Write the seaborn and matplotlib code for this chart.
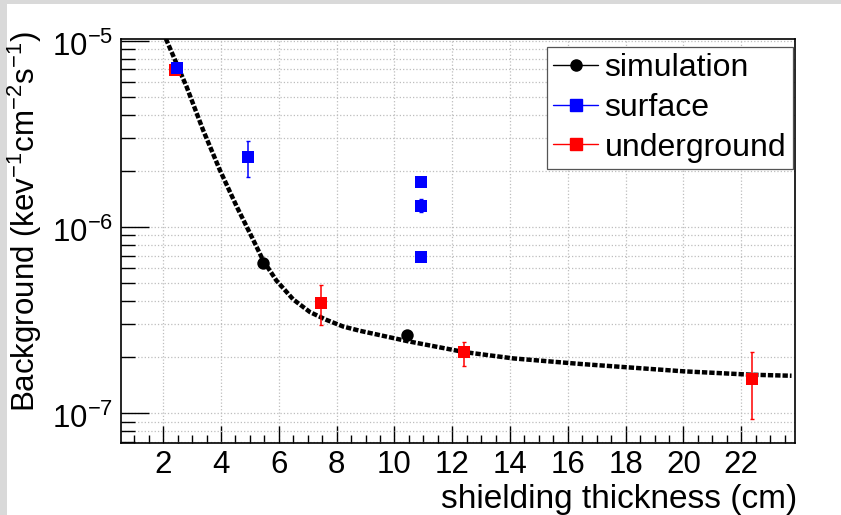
import matplotlib
matplotlib.use("Agg")
import matplotlib.pyplot as plt
import matplotlib.ticker as mticker
import matplotlib.transforms as mtransforms
from matplotlib.lines import Line2D
from matplotlib.patches import Rectangle
import numpy as np
import pandas as pd
import seaborn as sns

# ---------------- data ----------------
curve_x = [2.09, 2.81, 3.38, 3.96, 4.54, 5.11, 5.46, 5.92, 6.50, 7.08, 7.65,
           8.23, 8.81, 9.38, 10.44, 12.42, 14.11, 16.42, 18.84, 19.99, 22.36, 23.74]
curve_y = [1.025e-5, 5.65e-6, 3.31e-6, 2.02e-6, 1.29e-6, 8.55e-7, 6.6e-7, 5.15e-7,
           4.08e-7, 3.49e-7, 3.17e-7, 2.92e-7, 2.77e-7, 2.65e-7, 2.44e-7, 2.13e-7,
           1.97e-7, 1.84e-7, 1.73e-7, 1.68e-7, 1.61e-7, 1.59e-7]

sim_x = [5.46, 10.44]
sim_y = [6.42e-7, 2.64e-7]

surf_x = [2.46, 4.92, 10.92, 10.92, 10.92]
surf_y = [7.17e-6, 2.36e-6, 1.75e-6, 1.30e-6, 6.92e-7]
surf_lo = [7.00e-6, 1.85e-6, 1.72e-6, 1.21e-6, 6.80e-7]
surf_hi = [7.35e-6, 2.89e-6, 1.78e-6, 1.41e-6, 7.05e-7]

under_x = [2.40, 7.45, 12.42, 22.36]
under_y = [6.93e-6, 3.89e-7, 2.12e-7, 1.53e-7]
under_lo = [6.80e-6, 2.97e-7, 1.80e-7, 9.3e-8]
under_hi = [7.06e-6, 4.86e-7, 2.42e-7, 2.14e-7]

x_ticks = [2, 4, 6, 8, 10, 12, 14, 16, 18, 20, 22]
series_names = ["simulation", "surface", "underground"]
series_colors = ["#000000", "#0000ff", "#ff0000"]
series_markers = ["o", "s", "s"]

# ---------------- style ----------------
sns.set_theme(style="white")
plt.rcParams["font.family"] = ["Liberation Sans", "DejaVu Sans"]
plt.rcParams["mathtext.fontset"] = "custom"
plt.rcParams["mathtext.rm"] = "Liberation Sans"
plt.rcParams["mathtext.it"] = "Liberation Sans:italic"
plt.rcParams["mathtext.bf"] = "Liberation Sans:bold"
plt.rcParams["axes.unicode_minus"] = False
for k in ["text.color", "axes.labelcolor", "xtick.color", "ytick.color"]:
    plt.rcParams[k] = "black"

W, H = 841, 515
fig = plt.figure(figsize=(W / 100, H / 100), dpi=100)
fig.patch.set_facecolor("#d9d9d9")
fig.patches.append(Rectangle((7 / W, 0), 1, 1 - 4 / H, transform=fig.transFigure,
                             facecolor="white", edgecolor="none", zorder=-10))

ax = fig.add_axes([121.3 / W, 1 - 443.3 / H, (795 - 121.3) / W, (443.3 - 39) / H])
ax.set_facecolor("white")

# curve
curve_df = pd.DataFrame({"x": curve_x, "y": curve_y})
sns.lineplot(data=curve_df, x="x", y="y", ax=ax, sort=False, estimator=None,
             color="black", lw=3.2, linestyle=(0, (1.2, 0.45)), zorder=3)

# error bars
surf_y_a = np.array(surf_y)
under_y_a = np.array(under_y)
ax.errorbar(surf_x, surf_y,
            yerr=[surf_y_a - np.array(surf_lo), np.array(surf_hi) - surf_y_a],
            fmt="none", ecolor=series_colors[1], elinewidth=1.1, capsize=1.5, zorder=4)
ax.errorbar(under_x, under_y,
            yerr=[under_y_a - np.array(under_lo), np.array(under_hi) - under_y_a],
            fmt="none", ecolor=series_colors[2], elinewidth=1.1, capsize=1.5, zorder=4)

# points
sns.scatterplot(x=under_x, y=under_y, ax=ax, marker="s", color=series_colors[2],
                s=70, linewidth=0, zorder=5)
sns.scatterplot(x=surf_x, y=surf_y, ax=ax, marker="s", color=series_colors[1],
                s=70, linewidth=0, zorder=6)
sns.scatterplot(x=sim_x, y=sim_y, ax=ax, marker="o", color=series_colors[0],
                s=80, linewidth=0, zorder=6)

# axes
ax.set_yscale("log")
ax.set_xlim(0.55, 23.86)
ax.set_ylim(6.9e-8, 1.02e-5)

ax.xaxis.set_major_locator(mticker.FixedLocator(x_ticks))
ax.xaxis.set_major_formatter(mticker.FixedFormatter([str(t) for t in x_ticks]))
ax.xaxis.set_minor_locator(mticker.MultipleLocator(0.5))
ax.yaxis.set_major_locator(mticker.LogLocator(base=10, numticks=10))
ax.yaxis.set_minor_locator(mticker.LogLocator(base=10, subs=np.arange(2, 10), numticks=20))
ax.yaxis.set_minor_formatter(mticker.NullFormatter())

ax.tick_params(axis="both", which="both", direction="in", color="black",
               left=True, bottom=True, top=False, right=False)
ax.tick_params(axis="x", which="major", length=12, width=1, labelsize=22.5, pad=5)
ax.tick_params(axis="x", which="minor", length=6, width=1)
ax.tick_params(axis="y", which="major", length=20, width=1, labelsize=22.5, pad=6)
ax.tick_params(axis="y", which="minor", length=10, width=1)

# shift y tick labels slightly down (ROOT-like placement)
offset = mtransforms.ScaledTranslation(0, -3 / 100, fig.dpi_scale_trans)
for lab in ax.get_yticklabels():
    lab.set_transform(lab.get_transform() + offset)

ax.grid(True, which="major", axis="x", color="#bdbdbd", linestyle=":", lw=0.9)
ax.grid(True, which="both", axis="y", color="#bdbdbd", linestyle=":", lw=0.9)
ax.set_axisbelow(True)

for sp in ax.spines.values():
    sp.set_color("black")
    sp.set_linewidth(1.2)

ax.set_xlabel("shielding thickness (cm)", fontsize=24, loc="right")
ax.xaxis.set_label_coords(1.004, -0.101)
ax.set_ylabel("Background (kev$^{-1}$cm$^{-2}$s$^{-1}$)", fontsize=22.5, loc="top")
ax.yaxis.set_label_coords(-0.114, 1.018)

# legend
handles = [Line2D([], [], color=c, marker=m, markersize=8, lw=1)
           for c, m in zip(series_colors, series_markers)]
leg = ax.legend(handles, series_names, loc="upper left",
                bbox_to_anchor=(547 / W, 1 - 47 / H), bbox_transform=fig.transFigure,
                borderaxespad=0, fontsize=23, frameon=True, fancybox=False,
                framealpha=1, edgecolor="#555555", handlelength=1.4,
                handletextpad=0.2, labelspacing=0.3, borderpad=0.2)
leg.get_frame().set_linewidth(0.9)

fig.savefig("out.png", dpi=100, facecolor=fig.get_facecolor())
